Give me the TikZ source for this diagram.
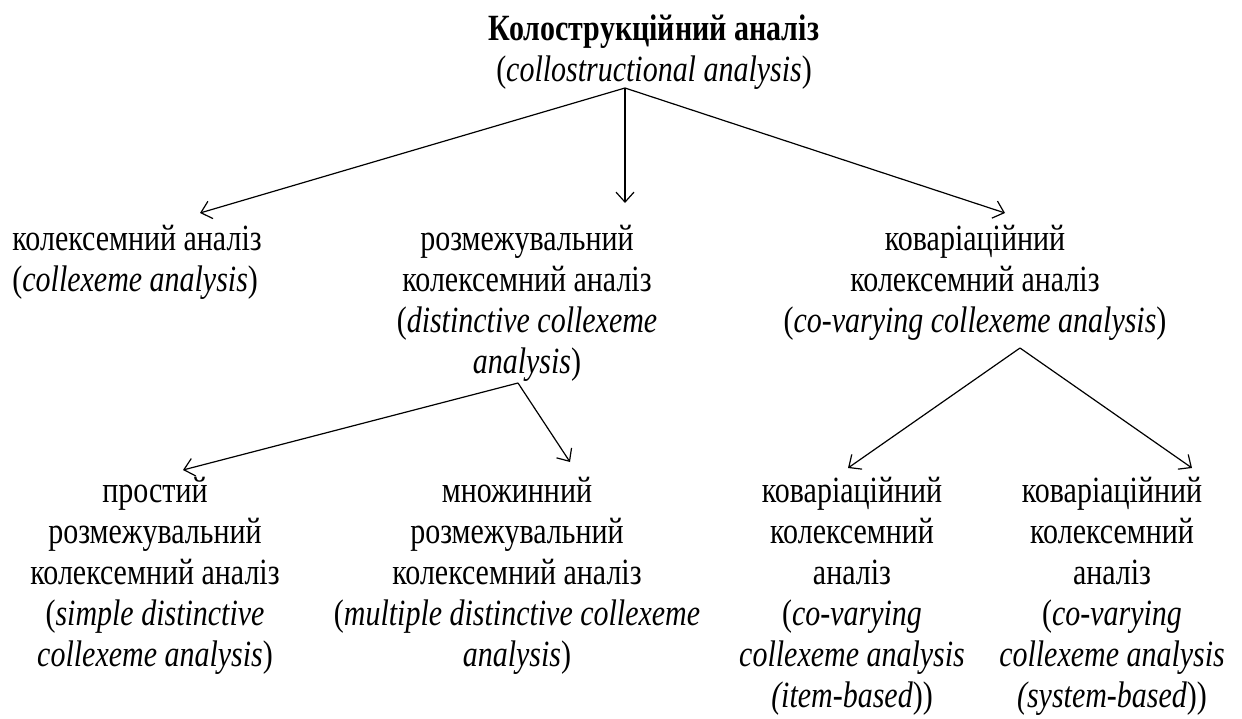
\documentclass[tikz,border=0pt]{standalone}
\usepackage{fontspec}
\setmainfont{Liberation Serif}[FakeStretch=0.81]
\usetikzlibrary{arrows.meta}
\begin{document}
\begin{tikzpicture}[x=0.5pt,y=-0.5pt,
  every node/.style={inner sep=0pt, font=\fontsize{18.5}{20.5}\selectfont},
  lbl/.style={align=center, anchor=north},
  arr/.style={draw, line width=0.6pt, -{Straight Barb[length=5pt,width=9pt]}}]
\useasboundingbox (0,0) rectangle (1242,718);

% top level
\node[lbl] (root) at (654,14) {\textbf{Колострукційний аналіз}\\(\textit{collostructional analysis})};

% second level
\node[align=left, anchor=north west] (coll) at (12,225) {колексемний аналіз\\(\textit{collexeme analysis})};
\node[lbl] (dist) at (527,225) {розмежувальний\\колексемний аналіз\\(\textit{distinctive collexeme}\\\textit{analysis})};
\node[lbl] (covar) at (975,225) {коваріаційний\\колексемний аналіз\\(\textit{co-varying collexeme analysis})};

% third level
\node[lbl] (simple) at (155,477) {простий\\розмежувальний\\колексемний аналіз\\(\textit{simple distinctive}\\\textit{collexeme analysis})};
\node[lbl] (multi) at (517,477) {множинний\\розмежувальний\\колексемний аналіз\\(\textit{multiple distinctive collexeme}\\\textit{analysis})};
\node[lbl] (item) at (852,477) {коваріаційний\\колексемний\\аналіз\\(\textit{co-varying}\\\textit{collexeme analysis}\\\textit{(item-based}))};
\node[lbl] (system) at (1112,477) {коваріаційний\\колексемний\\аналіз\\(\textit{co-varying}\\\textit{collexeme analysis}\\\textit{(system-based}))};

% connector ends
\coordinate (rootout) at (625,88);
\coordinate (collin) at (200,213);
\coordinate (distin) at (625,203);
\coordinate (covarin) at (1005,213);
\coordinate (distout) at (518,383);
\coordinate (simplein) at (183,470);
\coordinate (multiin) at (570,462);
\coordinate (covarout) at (1020,348);
\coordinate (itemin) at (848,468);
\coordinate (systemin) at (1192,468);

\draw[arr] (rootout) -- (collin);
\draw[arr] (rootout) -- (distin);
\draw[arr] (rootout) -- (covarin);
\draw[arr] (distout) -- (simplein);
\draw[arr] (distout) -- (multiin);
\draw[arr] (covarout) -- (itemin);
\draw[arr] (covarout) -- (systemin);
\end{tikzpicture}
\end{document}
